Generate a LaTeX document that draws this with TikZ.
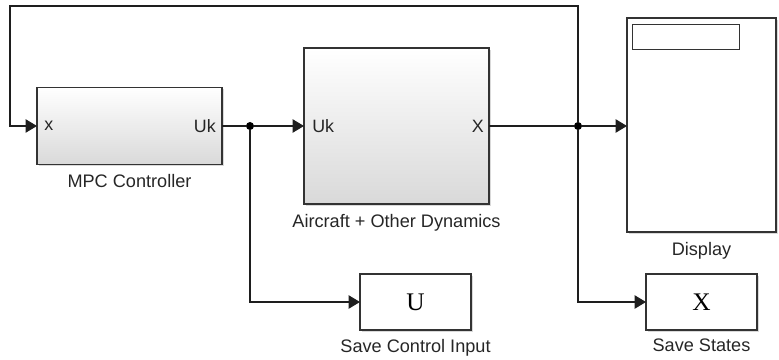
\documentclass[tikz,border=0pt]{standalone}
\usepackage{fontspec}
\setmainfont{Liberation Sans}
\newfontfamily\blockserif{Liberation Serif}
\usetikzlibrary{arrows.meta,calc,positioning,shadows}
\definecolor{SimEdge}{HTML}{333333}
\definecolor{SimWire}{HTML}{1E1E1E}
\definecolor{SimShade}{HTML}{D9D9D9}

\tikzset{
  simblock/.style={
    draw=SimEdge,
    line width=1.1pt,
    inner sep=0pt,
    outer sep=0pt,
    drop shadow={shadow xshift=1.2pt,shadow yshift=-1.2pt,opacity=.3}
  },
  subsystem/.style={
    simblock,
    top color=white,
    middle color=gray!6,
    bottom color=SimShade
  },
  sinkblock/.style={simblock,fill=white},
  caption/.style={inner sep=0pt,font=\fontsize{13.6}{16}\selectfont,text=black!85},
  portname/.style={inner sep=0pt,font=\fontsize{13.4}{16}\selectfont,text=black!85},
  signal/.style={draw=SimWire,line width=0.8pt,-{Triangle[length=8.5pt,width=10pt]}},
  wire/.style={draw=SimWire,line width=0.8pt},
  junction/.style={circle,fill=black,inner sep=0pt,minimum size=6pt}
}

\begin{document}
\begin{tikzpicture}[x=0.75pt,y=-0.75pt]
  \useasboundingbox (0,0) rectangle (779,360);

  \node[subsystem,minimum width=138.75pt,minimum height=57.75pt] (mpc) at (129.5,126) {};
  \node[subsystem,minimum width=138.75pt,minimum height=117pt] (plant) at (396.5,126) {};
  \node[sinkblock,minimum width=111.75pt,minimum height=160.5pt] (display) at (701.5,125) {};
  \node[draw=SimEdge,line width=0.8pt,fill=white,inner sep=0pt,anchor=north west,
        minimum width=80.25pt,minimum height=18.75pt] (screen) at ($(display.north west)+(5,6)$) {};
  \node[sinkblock,minimum width=83.25pt,minimum height=42pt,
        font=\blockserif\fontsize{19}{21}\selectfont] (saveu) at (415.5,302) {U};
  \node[sinkblock,minimum width=83.25pt,minimum height=42pt,
        font=\blockserif\fontsize{19}{21}\selectfont] (savex) at (701.5,302) {X};

  \node[portname,anchor=west] (mpcin) at ($(mpc.west)+(7,0)$) {x};
  \node[portname,anchor=east] (mpcout) at ($(mpc.east)+(-6,0)$) {Uk};
  \node[portname,anchor=west] (plantin) at ($(plant.west)+(8,0)$) {Uk};
  \node[portname,anchor=east] (plantout) at ($(plant.east)+(-5,0)$) {X};

  \node[caption,below=7.5pt of mpc] (mpclabel) {MPC Controller};
  \node[caption,below=7.5pt of plant] (plantlabel) {Aircraft + Other Dynamics};
  \node[caption,below=7.5pt of display] (displabel) {Display};
  \node[caption,below=6.5pt of saveu] (saveulabel) {Save Control Input};
  \node[caption,below=6.5pt of savex] (savexlabel) {Save States};

  \node[junction] (usplit) at (250,126) {};
  \node[junction] (xsplit) at (578,126) {};
  \coordinate (looptop) at (10,6);

  \draw[wire] (mpc.east) -- (usplit);
  \draw[signal] (usplit) -- (plant.west);
  \draw[signal] (usplit) |- (saveu.west);
  \draw[wire] (plant.east) -- (xsplit);
  \draw[signal] (xsplit) -- (xsplit -| display.west);
  \draw[signal] (xsplit) |- (savex.west);
  \draw[signal] (xsplit) |- (looptop) |- (mpc.west);
\end{tikzpicture}
\end{document}
